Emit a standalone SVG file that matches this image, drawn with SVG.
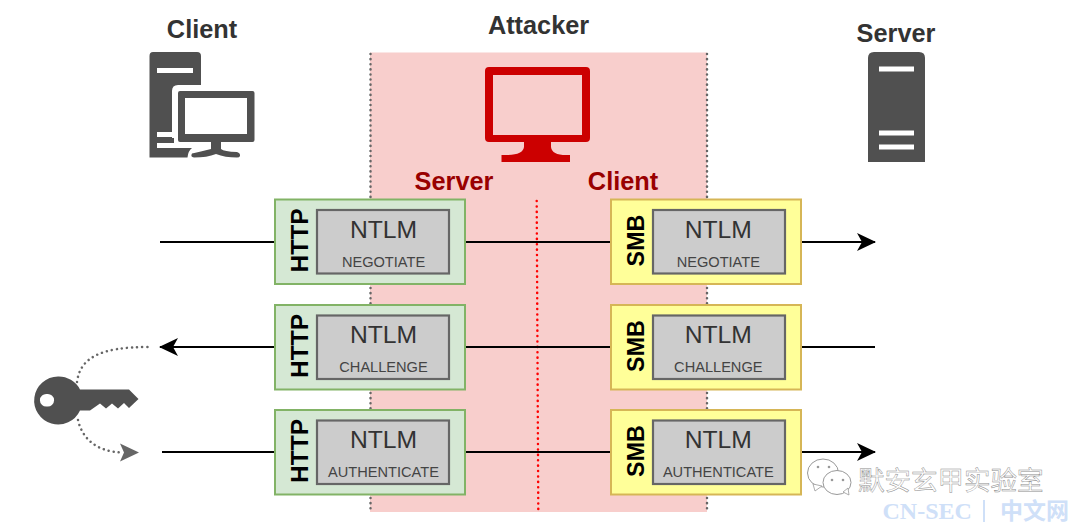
<svg xmlns="http://www.w3.org/2000/svg" width="1080" height="527" viewBox="0 0 1080 527">
<style>
text{font-family:"Liberation Sans",Arial,sans-serif}
.h{font-size:25.3px;font-weight:700;fill:#333;text-anchor:middle}
.r{font-size:25.3px;font-weight:700;fill:#990000;text-anchor:middle}
.proto{font-size:24.6px;font-weight:700;fill:#000;text-anchor:middle}
.smb{font-size:23.3px;font-weight:700;fill:#000;text-anchor:middle}
.ntlm{font-size:24.7px;fill:#333;text-anchor:middle}
.sub{font-size:14.6px;fill:#444;text-anchor:middle}
.green{fill:#d5e8d4;stroke:#82b366;stroke-width:2}
.yellow{fill:#ffff99;stroke:#d6b656;stroke-width:2}
.inner{fill:#cccccc;stroke:#666;stroke-width:2.200}
.line{stroke:#000;stroke-width:2;fill:none}
.dots{stroke:#666;stroke-width:2.500;stroke-dasharray:.1 5;fill:none;stroke-linecap:round}
.icon{fill:#505050}
.wm{font-family:"Noto Sans CJK SC",sans-serif;font-size:26.5px;fill:#fff;stroke:#8a8a8a;stroke-width:.45px}
.cn{font-family:"Liberation Serif","Noto Sans CJK SC",serif;font-size:24px;font-weight:700;fill:#cfe0f8}
</style>
<defs>
<marker id="a" markerUnits="userSpaceOnUse" markerWidth="20" markerHeight="20" refX="18" refY="10" orient="auto"><path d="M0 1 L19 10 L0 19 L5 10Z" fill="#000"/></marker>
</defs>
<rect width="1080" height="527" fill="#fff"/>
<g id="attacker-zone">
<rect x="370" y="52.500" width="337" height="459.500" fill="#f8cecc"/>
<path class="dots" d="M370.500 54V199M370.500 288V304M370.500 393V409M370.500 498V512M707 54V199M707 288V304M707 393V409M707 498V512"/>
<path d="M536.700 201L538.300 512" stroke="#ff0000" stroke-width="2.500" stroke-dasharray=".1 5.300" stroke-linecap="round" fill="none"/>
</g>
<g id="connectors">
<path class="line" d="M160 242H275"/>
<path class="line" d="M465 242H611"/>
<path class="line" d="M801 242H875" marker-end="url(#a)"/>
<path class="line" d="M275 347H160" marker-end="url(#a)"/>
<path class="line" d="M465 347H611"/>
<path class="line" d="M801 347H875"/>
<path class="line" d="M162 452H275"/>
<path class="line" d="M465 452H611"/>
<path class="line" d="M801 452H875" marker-end="url(#a)"/>
<path class="dots" d="M77 382C80 358 100 347 148 347"/>
<path class="dots" d="M78 420C82 438 96 452 123 452.500"/>
<path d="M120 443.500L139 452.500L120 461.500L124 452.500Z" fill="#666"/>
</g>
<g id="client">
<text class="h" x="202" y="38">Client</text>
<path class="icon" d="M153 52H197Q201 52 201 56V85H178Q172 85 172 91V138H177V144H176V148H192Q188 151 187.500 157.500H149.500V56Q149.500 52 153 52Z"/>
<rect x="157" y="68" width="36" height="5" fill="#fff"/>
<rect x="157" y="132" width="15" height="5" fill="#fff"/>
<rect x="157" y="143" width="33" height="5" fill="#fff"/>
<path d="M174 89H256V144H225V150L243 152V159H190V152L207 150V144H174Z" fill="#fff"/>
<path class="icon" d="M180 91H252.500Q254.500 91 254.500 93V140Q254.500 142 252.500 142H221V149Q224 151.500 237 152Q240.500 153 240 156Q239.500 157.500 237 157.500Q225 157.500 216 154Q207 157.500 194 157.500Q190 157 192 153.500Q198 152 211 149V142H180Q178 142 178 140V93Q178 91 180 91Z"/>
<rect x="185" y="98" width="62" height="36" fill="#fff"/>
</g>
<g id="attacker">
<text class="h" x="538.500" y="34">Attacker</text>
<path fill="#cc0000" fill-rule="evenodd" d="M489 67H586Q590 67 590 71V138Q590 142 586 142H551V147Q552 155 566 155H570V162H501.500V155H506Q523 155 524 147V142H489Q485 142 485 138V71Q485 67 489 67ZM493 75V135H582V75Z"/>
<text class="r" x="454" y="189.700">Server</text>
<text class="r" x="623" y="189.700">Client</text>
</g>
<g id="server">
<text class="h" x="896" y="42">Server</text>
<path class="icon" d="M874 52H919Q925 52 925 58V162H868V58Q868 52 874 52Z"/>
<rect x="879" y="66.500" width="35" height="5" fill="#fff"/>
<rect x="879" y="130.500" width="35" height="5" fill="#fff"/>
<rect x="879" y="144.500" width="35" height="5" fill="#fff"/>
</g>
<g id="key">
<path class="icon" fill-rule="evenodd" d="M58 376.500A24 24 0 0 1 80 389.500H129L138.500 399L129 408L124 403L118 408.500L112 403.500L106 408.500L100 403.500L90 410.500H80A24 24 0 1 1 58 376.500ZM47 394A6.300 6.300 0 1 0 47 406.500A6.300 6.300 0 1 0 47 394Z"/>
</g>
<g id="http-negotiate">
<rect class="green" x="275" y="199.500" width="190" height="84.500"/>
<text class="proto" transform="translate(308 240.500) rotate(-90)">HTTP</text>
<rect class="inner" x="317" y="210" width="132" height="63.500"/>
<text class="ntlm" x="383.500" y="237.500">NTLM</text>
<text class="sub" x="383.500" y="266.800">NEGOTIATE</text>
</g>
<g id="smb-negotiate">
<rect class="yellow" x="611" y="199.500" width="190" height="84.500"/>
<text class="smb" transform="translate(643.500 240.500) rotate(-90)">SMB</text>
<rect class="inner" x="653" y="210" width="132" height="63.500"/>
<text class="ntlm" x="718.300" y="237.500">NTLM</text>
<text class="sub" x="718.300" y="266.800">NEGOTIATE</text>
</g>
<g id="http-challenge">
<rect class="green" x="275" y="305" width="190" height="84.500"/>
<text class="proto" transform="translate(308 346) rotate(-90)">HTTP</text>
<rect class="inner" x="317" y="315.500" width="132" height="63.500"/>
<text class="ntlm" x="383.500" y="343">NTLM</text>
<text class="sub" x="383.500" y="372.300">CHALLENGE</text>
</g>
<g id="smb-challenge">
<rect class="yellow" x="611" y="305" width="190" height="84.500"/>
<text class="smb" transform="translate(643.500 346) rotate(-90)">SMB</text>
<rect class="inner" x="653" y="315.500" width="132" height="63.500"/>
<text class="ntlm" x="718.300" y="343">NTLM</text>
<text class="sub" x="718.300" y="372.300">CHALLENGE</text>
</g>
<g id="http-authenticate">
<rect class="green" x="275" y="410" width="190" height="84.500"/>
<text class="proto" transform="translate(308 451) rotate(-90)">HTTP</text>
<rect class="inner" x="317" y="420.500" width="132" height="63.500"/>
<text class="ntlm" x="383.500" y="448">NTLM</text>
<text class="sub" x="383.500" y="477.300">AUTHENTICATE</text>
</g>
<g id="smb-authenticate">
<rect class="yellow" x="611" y="410" width="190" height="84.500"/>
<text class="smb" transform="translate(643.500 451) rotate(-90)">SMB</text>
<rect class="inner" x="653" y="420.500" width="132" height="63.500"/>
<text class="ntlm" x="718.300" y="448">NTLM</text>
<text class="sub" x="718.300" y="477.300">AUTHENTICATE</text>
</g>
<g id="watermark">
<ellipse cx="823" cy="473" rx="15.500" ry="14" fill="#fff" stroke="#999"/>
<path d="M813 484L815 491L822 486Z" fill="#fff" stroke="#999" stroke-width=".8"/>
<ellipse cx="837" cy="482.500" rx="14" ry="12" fill="#fff" stroke="#999"/>
<path d="M843 492L849 495L848 488Z" fill="#fff" stroke="#999" stroke-width=".8"/>
<circle cx="818" cy="467" r="1.300" fill="#999"/><circle cx="829" cy="467" r="1.300" fill="#999"/>
<circle cx="832" cy="480" r="1.300" fill="#999"/><circle cx="843" cy="480" r="1.300" fill="#999"/>
<text class="wm" x="858" y="490">默安玄甲实验室</text>
<text class="cn" x="882.500" y="519">CN-SEC</text>
<path d="M984 500V522" stroke="#cfe0f8" stroke-width="2"/>
<text class="cn" x="1000" y="519" style="font-family:'Noto Sans CJK SC',serif;font-size:23px">中文网</text>
</g>
</svg>
